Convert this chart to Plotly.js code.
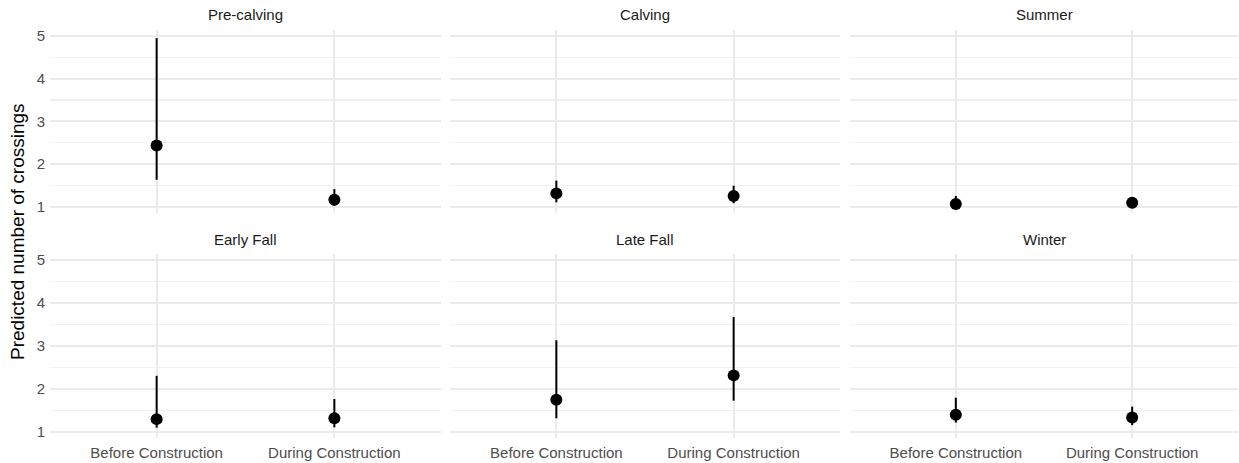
<!DOCTYPE html>
<html>
<head>
<meta charset="utf-8">
<script src="https://cdn.plot.ly/plotly-3.0.1.min.js"></script>
<style>
  html, body { margin: 0; padding: 0; background: #fff; }
  #chart { width: 1239px; height: 463px; }
</style>
</head>
<body>
<div id="chart"></div>
<script>
// Seasons shown as facets, in reading order
const seasons = ["Pre-calving", "Calving", "Summer", "Early Fall", "Late Fall", "Winter"];
const periods = ["Before Construction", "During Construction"];

// Predicted crossings per season: [before, during]
const predicted = [
  [2.43, 1.16],
  [1.31, 1.25],
  [1.06, 1.09],
  [1.29, 1.31],
  [1.74, 2.31],
  [1.39, 1.33]
];
const lowerCI = [
  [1.63, 1.02],
  [1.10, 1.08],
  [0.96, 0.98],
  [1.09, 1.10],
  [1.31, 1.72],
  [1.21, 1.15]
];
const upperCI = [
  [4.95, 1.41],
  [1.61, 1.49],
  [1.25, 1.20],
  [2.30, 1.76],
  [3.13, 3.67],
  [1.79, 1.58]
];

const W = 1239, H = 463;
// facet boxes in pixels: [left, right], [top, bottom]
const colPx = [[50, 441], [450, 840], [850, 1238]];
const rowPx = [[30, 213], [254, 438]];

const textFont = "Liberation Sans, Arial, sans-serif";
const traces = [];
const layout = {
  width: W, height: H,
  margin: {l: 0, r: 0, t: 0, b: 0},
  paper_bgcolor: "#ffffff",
  plot_bgcolor: "#ffffff",
  showlegend: false,
  font: {family: textFont, color: "#4d4d4d", size: 15},
  annotations: []
};

seasons.forEach((s, i) => {
  const row = Math.floor(i / 3), col = i % 3;
  const n = i + 1;
  const xa = "x" + (n === 1 ? "" : n), ya = "y" + (n === 1 ? "" : n);
  const xKey = "xaxis" + (n === 1 ? "" : n), yKey = "yaxis" + (n === 1 ? "" : n);

  traces.push({
    type: "scatter",
    mode: "markers",
    x: periods,
    y: predicted[i],
    xaxis: xa, yaxis: ya,
    marker: {color: "#000000", size: 12},
    error_y: {
      type: "data",
      symmetric: false,
      array: upperCI[i].map((u, k) => u - predicted[i][k]),
      arrayminus: lowerCI[i].map((l, k) => predicted[i][k] - l),
      color: "#000000",
      thickness: 2,
      width: 0
    },
    hoverinfo: "skip"
  });

  layout[xKey] = {
    domain: [colPx[col][0] / W, colPx[col][1] / W],
    anchor: ya,
    type: "category",
    categoryorder: "array",
    categoryarray: periods,
    range: [-0.6, 1.6],
    showgrid: true,
    gridcolor: "#ebebeb",
    gridwidth: 2,
    zeroline: false,
    showline: false,
    ticks: "",
    ticklabelstandoff: 4,
    showticklabels: row === 1,
    tickfont: {family: textFont, size: 15, color: "#4d4d4d"},
    fixedrange: true
  };
  layout[yKey] = {
    domain: [1 - rowPx[row][1] / H, 1 - rowPx[row][0] / H],
    anchor: xa,
    range: [0.85, 5.14],
    tickvals: [1, 2, 3, 4, 5],
    showgrid: true,
    gridcolor: "#ebebeb",
    gridwidth: 2,
    minor: {tickvals: [1.5, 2.5, 3.5, 4.5], showgrid: true, gridcolor: "#f1f1f1", gridwidth: 1.2},
    zeroline: false,
    showline: false,
    ticks: "",
    ticklabelstandoff: 4,
    showticklabels: col === 0,
    tickfont: {family: textFont, size: 15, color: "#4d4d4d"},
    fixedrange: true
  };

  // facet strip label
  layout.annotations.push({
    text: s,
    xref: "paper", yref: "paper",
    x: (colPx[col][0] + colPx[col][1]) / 2 / W,
    y: 1 - (rowPx[row][0] - 15) / H,
    xanchor: "center", yanchor: "middle",
    showarrow: false,
    font: {family: textFont, size: 15, color: "#1a1a1a"}
  });
});

// shared y-axis title
layout.annotations.push({
  text: "Predicted number of crossings",
  xref: "paper", yref: "paper",
  x: 18 / W, y: 1 - 232 / H,
  xanchor: "center", yanchor: "middle",
  textangle: -90,
  showarrow: false,
  font: {family: textFont, size: 19, color: "#000000"}
});

Plotly.newPlot("chart", traces, layout, {staticPlot: true, displayModeBar: false});
</script>
</body>
</html>
